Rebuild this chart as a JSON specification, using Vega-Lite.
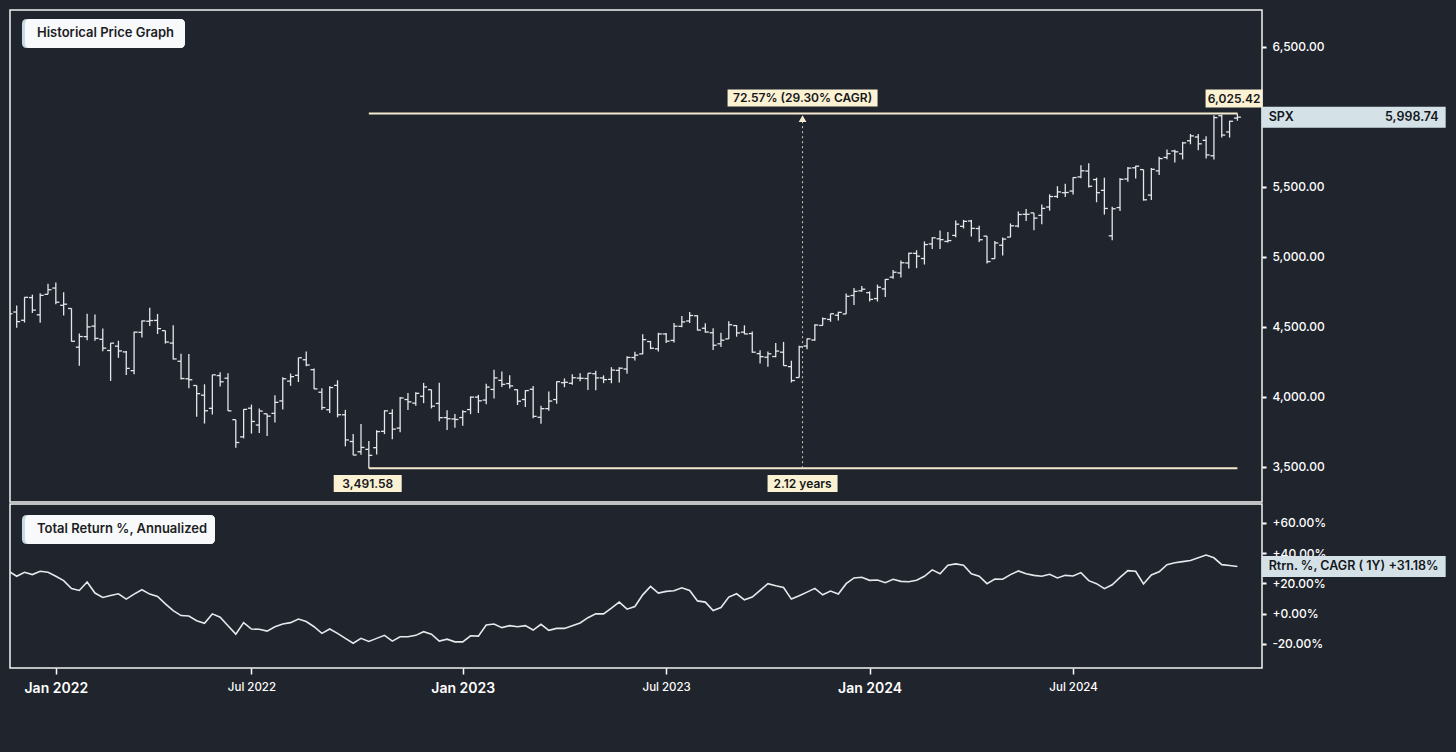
{
  "$schema": "https://vega.github.io/schema/vega-lite/v6.json",
  "autosize": {"type": "none"},
  "padding": {"left": 10, "top": 10, "right": 1446, "bottom": 742},
  "background": "#20242c",
  "config": {
    "font": "Inter",
    "view": {"stroke": "#f2f2f2", "strokeWidth": 1.5},
    "axis": {"grid": false, "domain": false, "labelFont": "Inter", "labelColor": "#ffffff", "tickColor": "#ffffff"}
  },
  "datasets": {
    "spx": [
      {"d":"2021-11-26","o":4700,"h":4743.8,"l":4585.4,"c":4594.6,"r":28},
      {"d":"2021-12-03","o":4607,"h":4652.9,"l":4495.1,"c":4538.4,"r":24.7},
      {"d":"2021-12-10","o":4548,"h":4713.6,"l":4532,"c":4712.0,"r":27.3},
      {"d":"2021-12-17","o":4710,"h":4731,"l":4600.2,"c":4620.6,"r":25.8},
      {"d":"2021-12-24","o":4587,"h":4740.7,"l":4531.1,"c":4725.8,"r":28},
      {"d":"2021-12-31","o":4733,"h":4808.9,"l":4733,"c":4766.2,"r":27.3},
      {"d":"2022-01-07","o":4778,"h":4818.6,"l":4662.7,"c":4677.0,"r":24.7},
      {"d":"2022-01-14","o":4655,"h":4748.8,"l":4582.2,"c":4662.9,"r":21.8},
      {"d":"2022-01-21","o":4632,"h":4632.2,"l":4395.3,"c":4397.9,"r":16.5},
      {"d":"2022-01-28","o":4356,"h":4453.2,"l":4222.6,"c":4431.9,"r":15.3},
      {"d":"2022-02-04","o":4431,"h":4595.3,"l":4405,"c":4500.5,"r":20.9},
      {"d":"2022-02-11","o":4506,"h":4590,"l":4401.4,"c":4418.6,"r":13.6},
      {"d":"2022-02-18","o":4412,"h":4489.5,"l":4327.2,"c":4348.9,"r":10.7},
      {"d":"2022-02-25","o":4332,"h":4385,"l":4114.7,"c":4384.7,"r":12},
      {"d":"2022-03-04","o":4363,"h":4402,"l":4279.5,"c":4328.9,"r":13.1},
      {"d":"2022-03-11","o":4322,"h":4329,"l":4157.9,"c":4204.3,"r":9.6},
      {"d":"2022-03-18","o":4188,"h":4465.4,"l":4161.7,"c":4463.1,"r":12.9},
      {"d":"2022-03-25","o":4462,"h":4546,"l":4424.3,"c":4543.1,"r":15.8},
      {"d":"2022-04-01","o":4541,"h":4637.3,"l":4506.9,"c":4545.9,"r":12.9},
      {"d":"2022-04-08","o":4547,"h":4593.4,"l":4450,"c":4488.3,"r":11.3},
      {"d":"2022-04-15","o":4474,"h":4474,"l":4381.3,"c":4392.6,"r":6.4},
      {"d":"2022-04-22","o":4385,"h":4512.9,"l":4267.6,"c":4271.8,"r":2},
      {"d":"2022-04-29","o":4255,"h":4308.5,"l":4124.3,"c":4131.9,"r":-1.3},
      {"d":"2022-05-06","o":4130,"h":4307.7,"l":4062.5,"c":4123.3,"r":-1.6},
      {"d":"2022-05-13","o":4082,"h":4082,"l":3858.9,"c":4023.9,"r":-4.7},
      {"d":"2022-05-20","o":4013,"h":4090.7,"l":3810.3,"c":3901.4,"r":-6.4},
      {"d":"2022-05-27","o":3919,"h":4158.5,"l":3875.1,"c":4158.2,"r":-0.2},
      {"d":"2022-06-03","o":4153,"h":4177.5,"l":4074.4,"c":4108.5,"r":-2.4},
      {"d":"2022-06-10","o":4134,"h":4168.8,"l":3900.2,"c":3900.9,"r":-8},
      {"d":"2022-06-17","o":3838,"h":3838,"l":3636.9,"c":3674.8,"r":-13.6},
      {"d":"2022-06-24","o":3715,"h":3913.6,"l":3705,"c":3911.7,"r":-6},
      {"d":"2022-07-01","o":3920,"h":3945.9,"l":3738.7,"c":3825.3,"r":-10.2},
      {"d":"2022-07-08","o":3800,"h":3918.5,"l":3742,"c":3899.4,"r":-10.4},
      {"d":"2022-07-15","o":3880,"h":3880,"l":3721.6,"c":3863.2,"r":-11.6},
      {"d":"2022-07-22","o":3883,"h":4012.4,"l":3818.6,"c":3961.6,"r":-8.7},
      {"d":"2022-07-29","o":3972,"h":4140.2,"l":3910.7,"c":4130.3,"r":-6.9},
      {"d":"2022-08-05","o":4113,"h":4167.7,"l":4079.8,"c":4145.2,"r":-6},
      {"d":"2022-08-12","o":4155,"h":4280.5,"l":4107,"c":4280.2,"r":-3.6},
      {"d":"2022-08-19","o":4266,"h":4325.3,"l":4218.7,"c":4228.5,"r":-5.3},
      {"d":"2022-08-26","o":4195,"h":4203,"l":4057.7,"c":4057.7,"r":-8.7},
      {"d":"2022-09-02","o":4034,"h":4062,"l":3906.2,"c":3924.3,"r":-13.1},
      {"d":"2022-09-09","o":3909,"h":4076.8,"l":3886,"c":4067.4,"r":-10.2},
      {"d":"2022-09-16","o":4083,"h":4119.3,"l":3855,"c":3873.3,"r":-13.1},
      {"d":"2022-09-23","o":3873,"h":3908,"l":3647.5,"c":3693.2,"r":-16.4},
      {"d":"2022-09-30","o":3682,"h":3736,"l":3584.1,"c":3585.6,"r":-19.6},
      {"d":"2022-10-07","o":3609,"h":3806.9,"l":3588,"c":3639.7,"r":-16.4},
      {"d":"2022-10-14","o":3626,"h":3685.4,"l":3491.58,"c":3583.1,"r":-18.4},
      {"d":"2022-10-21","o":3638,"h":3762.8,"l":3590,"c":3752.8,"r":-16.4},
      {"d":"2022-10-28","o":3755,"h":3905.4,"l":3735,"c":3901.1,"r":-14.4},
      {"d":"2022-11-04","o":3883,"h":3911.8,"l":3698.8,"c":3770.6,"r":-18.2},
      {"d":"2022-11-11","o":3778,"h":3999.1,"l":3749,"c":3993.0,"r":-15.3},
      {"d":"2022-11-18","o":3982,"h":4028.8,"l":3906.5,"c":3965.3,"r":-15.3},
      {"d":"2022-11-25","o":3956,"h":4034,"l":3938,"c":4026.1,"r":-14.4},
      {"d":"2022-12-02","o":4005,"h":4100.5,"l":3956,"c":4071.7,"r":-12},
      {"d":"2022-12-09","o":4052,"h":4052.5,"l":3918.4,"c":3934.4,"r":-13.6},
      {"d":"2022-12-16","o":3954,"h":4101,"l":3827,"c":3852.4,"r":-18.2},
      {"d":"2022-12-23","o":3853,"h":3905.4,"l":3764.5,"c":3844.8,"r":-16.9},
      {"d":"2022-12-30","o":3843,"h":3878.3,"l":3780.8,"c":3839.5,"r":-18.7},
      {"d":"2023-01-06","o":3853,"h":3906,"l":3794,"c":3895.1,"r":-18.7},
      {"d":"2023-01-13","o":3910,"h":4003.9,"l":3877.3,"c":3999.1,"r":-14.7},
      {"d":"2023-01-20","o":3999,"h":4015.4,"l":3885.5,"c":3972.6,"r":-14.9},
      {"d":"2023-01-27","o":3978,"h":4094.2,"l":3949,"c":4070.6,"r":-7.6},
      {"d":"2023-02-03","o":4054,"h":4195.4,"l":3989.7,"c":4136.5,"r":-6.9},
      {"d":"2023-02-10","o":4119,"h":4182.4,"l":4071,"c":4090.5,"r":-9.3},
      {"d":"2023-02-17","o":4096,"h":4156,"l":4060.8,"c":4079.1,"r":-8},
      {"d":"2023-02-24","o":4052,"h":4053.6,"l":3943.1,"c":3970.0,"r":-8.7},
      {"d":"2023-03-03","o":3982,"h":4048.3,"l":3928.2,"c":4045.6,"r":-8},
      {"d":"2023-03-10","o":4055,"h":4078.5,"l":3847.7,"c":3861.6,"r":-10.9},
      {"d":"2023-03-17","o":3855,"h":3937.9,"l":3808.9,"c":3916.6,"r":-7.1},
      {"d":"2023-03-24","o":3917,"h":4039.5,"l":3901.3,"c":3971.0,"r":-11.1},
      {"d":"2023-03-31","o":3982,"h":4110.8,"l":3951.5,"c":4109.3,"r":-9.8},
      {"d":"2023-04-07","o":4102,"h":4133,"l":4069.8,"c":4105.0,"r":-9.8},
      {"d":"2023-04-14","o":4098,"h":4163.2,"l":4086.9,"c":4137.6,"r":-8},
      {"d":"2023-04-21","o":4135,"h":4169.5,"l":4113.2,"c":4133.5,"r":-6.2},
      {"d":"2023-04-28","o":4132,"h":4170,"l":4049.4,"c":4169.5,"r":-2.7},
      {"d":"2023-05-05","o":4166,"h":4186.9,"l":4048.3,"c":4136.3,"r":-0.2},
      {"d":"2023-05-12","o":4136,"h":4154.3,"l":4098.9,"c":4124.1,"r":-0.2},
      {"d":"2023-05-19","o":4126,"h":4212.9,"l":4098,"c":4192.0,"r":3.6},
      {"d":"2023-05-26","o":4190,"h":4212.9,"l":4104,"c":4205.5,"r":7.6},
      {"d":"2023-06-02","o":4200,"h":4290.7,"l":4166,"c":4282.4,"r":2.9},
      {"d":"2023-06-09","o":4282,"h":4322.6,"l":4260.2,"c":4298.9,"r":4.7},
      {"d":"2023-06-16","o":4308,"h":4448.5,"l":4305,"c":4409.6,"r":12.4},
      {"d":"2023-06-23","o":4396,"h":4400,"l":4341,"c":4348.3,"r":18},
      {"d":"2023-06-30","o":4344,"h":4458.5,"l":4325,"c":4450.4,"r":13.6},
      {"d":"2023-07-07","o":4450,"h":4456.5,"l":4385,"c":4399.0,"r":14.7},
      {"d":"2023-07-14","o":4404,"h":4527.8,"l":4389.9,"c":4505.4,"r":15.1},
      {"d":"2023-07-21","o":4505,"h":4578.4,"l":4497.8,"c":4536.3,"r":17.1},
      {"d":"2023-07-28","o":4543,"h":4607.1,"l":4528.6,"c":4582.2,"r":15.3},
      {"d":"2023-08-04","o":4580,"h":4584.6,"l":4474.5,"c":4478.0,"r":8.4},
      {"d":"2023-08-11","o":4491,"h":4527.4,"l":4458.3,"c":4464.1,"r":7.6},
      {"d":"2023-08-18","o":4459,"h":4490.3,"l":4335.3,"c":4369.7,"r":2},
      {"d":"2023-08-25","o":4380,"h":4458.3,"l":4356.3,"c":4405.7,"r":4},
      {"d":"2023-09-01","o":4415,"h":4541.3,"l":4414.6,"c":4515.8,"r":10.9},
      {"d":"2023-09-08","o":4510,"h":4514.3,"l":4430.5,"c":4457.5,"r":13.1},
      {"d":"2023-09-15","o":4463,"h":4512,"l":4448.6,"c":4450.3,"r":9.1},
      {"d":"2023-09-22","o":4453,"h":4467.4,"l":4316.2,"c":4320.1,"r":10.9},
      {"d":"2023-09-29","o":4310,"h":4333.2,"l":4238.6,"c":4288.1,"r":15.3},
      {"d":"2023-10-06","o":4284,"h":4324.4,"l":4216.5,"c":4308.5,"r":19.8},
      {"d":"2023-10-13","o":4289,"h":4385.5,"l":4283.8,"c":4327.8,"r":18.4},
      {"d":"2023-10-20","o":4320,"h":4393.6,"l":4223,"c":4224.2,"r":17.3},
      {"d":"2023-10-27","o":4217,"h":4259.4,"l":4103.8,"c":4117.4,"r":9.6},
      {"d":"2023-11-03","o":4139,"h":4366.2,"l":4138.9,"c":4358.3,"r":11.8},
      {"d":"2023-11-10","o":4364,"h":4418,"l":4341.3,"c":4415.2,"r":14.2},
      {"d":"2023-11-17","o":4407,"h":4520.1,"l":4401.2,"c":4514.0,"r":16.7},
      {"d":"2023-11-24","o":4511,"h":4568.4,"l":4511,"c":4559.3,"r":12.4},
      {"d":"2023-12-01","o":4554,"h":4595,"l":4537.2,"c":4594.6,"r":14.9},
      {"d":"2023-12-08","o":4584,"h":4609.2,"l":4546.5,"c":4604.4,"r":12.9},
      {"d":"2023-12-15","o":4593,"h":4738.6,"l":4593,"c":4719.2,"r":19.8},
      {"d":"2023-12-22","o":4725,"h":4778,"l":4657,"c":4754.6,"r":23.6},
      {"d":"2023-12-29","o":4758,"h":4793.3,"l":4751,"c":4769.8,"r":24},
      {"d":"2024-01-05","o":4745,"h":4754.3,"l":4682.1,"c":4697.2,"r":22},
      {"d":"2024-01-12","o":4703,"h":4802.4,"l":4682,"c":4783.8,"r":22.2},
      {"d":"2024-01-19","o":4772,"h":4842.1,"l":4714.8,"c":4839.8,"r":20.4},
      {"d":"2024-01-26","o":4856,"h":4906.7,"l":4844,"c":4891.0,"r":22.7},
      {"d":"2024-02-02","o":4886,"h":4975.3,"l":4853,"c":4958.6,"r":21.3},
      {"d":"2024-02-09","o":4957,"h":5030,"l":4918,"c":5026.6,"r":21.1},
      {"d":"2024-02-16","o":5026,"h":5048.4,"l":4920.3,"c":5005.6,"r":22},
      {"d":"2024-02-23","o":4989,"h":5111,"l":4946,"c":5088.8,"r":24.7},
      {"d":"2024-03-01","o":5093,"h":5140.3,"l":5056.8,"c":5137.1,"r":28.9},
      {"d":"2024-03-08","o":5130,"h":5189.3,"l":5056.3,"c":5123.7,"r":26.4},
      {"d":"2024-03-15","o":5111,"h":5179.1,"l":5104,"c":5117.1,"r":32},
      {"d":"2024-03-22","o":5154,"h":5261.1,"l":5140.3,"c":5234.2,"r":32.9},
      {"d":"2024-03-29","o":5219,"h":5264.9,"l":5203.4,"c":5254.4,"r":32},
      {"d":"2024-04-05","o":5257,"h":5264.9,"l":5146,"c":5204.3,"r":26.4},
      {"d":"2024-04-12","o":5203,"h":5222.2,"l":5107,"c":5123.4,"r":24.7},
      {"d":"2024-04-19","o":5149,"h":5149.7,"l":4953.6,"c":4967.2,"r":19.8},
      {"d":"2024-04-26","o":4988,"h":5114.6,"l":4987,"c":5100.0,"r":22.9},
      {"d":"2024-05-03","o":5084,"h":5139.1,"l":5011,"c":5127.8,"r":22.7},
      {"d":"2024-05-10","o":5142,"h":5239.7,"l":5142,"c":5222.7,"r":25.8},
      {"d":"2024-05-17","o":5221,"h":5325.5,"l":5211,"c":5303.3,"r":28.2},
      {"d":"2024-05-24","o":5305,"h":5341.9,"l":5256.9,"c":5304.7,"r":26.4},
      {"d":"2024-05-31","o":5315,"h":5315,"l":5191.7,"c":5277.5,"r":25.3},
      {"d":"2024-06-07","o":5297,"h":5375,"l":5234,"c":5347.0,"r":24.7},
      {"d":"2024-06-14","o":5357,"h":5447.3,"l":5331,"c":5431.6,"r":26},
      {"d":"2024-06-21","o":5432,"h":5505.5,"l":5421,"c":5464.6,"r":23.6},
      {"d":"2024-06-28","o":5459,"h":5523.6,"l":5428.7,"c":5460.5,"r":25.3},
      {"d":"2024-07-05","o":5471,"h":5570.3,"l":5446,"c":5567.2,"r":24.9},
      {"d":"2024-07-12","o":5572,"h":5655.6,"l":5563,"c":5615.4,"r":27.1},
      {"d":"2024-07-19","o":5614,"h":5669.7,"l":5497,"c":5505.0,"r":21.8},
      {"d":"2024-07-26","o":5553,"h":5566.2,"l":5390.9,"c":5459.1,"r":19.8},
      {"d":"2024-08-02","o":5476,"h":5566.2,"l":5302.9,"c":5346.6,"r":16.5},
      {"d":"2024-08-09","o":5151,"h":5358,"l":5119.3,"c":5344.2,"r":19.1},
      {"d":"2024-08-16","o":5353,"h":5563.4,"l":5328,"c":5554.3,"r":24},
      {"d":"2024-08-23","o":5557,"h":5643.2,"l":5537,"c":5634.6,"r":28.4},
      {"d":"2024-08-30","o":5637,"h":5651.6,"l":5560.9,"c":5648.4,"r":28},
      {"d":"2024-09-06","o":5624,"h":5624,"l":5402.6,"c":5408.4,"r":19.6},
      {"d":"2024-09-13","o":5442,"h":5636.3,"l":5407,"c":5626.0,"r":25.6},
      {"d":"2024-09-20","o":5615,"h":5715,"l":5585,"c":5702.6,"r":27.6},
      {"d":"2024-09-27","o":5711,"h":5767.4,"l":5698,"c":5738.2,"r":32.4},
      {"d":"2024-10-04","o":5757,"h":5765.1,"l":5674,"c":5751.1,"r":33.6},
      {"d":"2024-10-11","o":5737,"h":5822.1,"l":5696.8,"c":5815.0,"r":34.4},
      {"d":"2024-10-18","o":5830,"h":5878.5,"l":5805,"c":5864.7,"r":35.1},
      {"d":"2024-10-25","o":5857,"h":5878.3,"l":5762,"c":5808.1,"r":36.9},
      {"d":"2024-11-01","o":5833,"h":5862.8,"l":5703,"c":5728.8,"r":38.7},
      {"d":"2024-11-08","o":5723,"h":6012.5,"l":5696.5,"c":5995.5,"r":36.9},
      {"d":"2024-11-15","o":6008.9,"h":6017.3,"l":5853,"c":5870.6,"r":32.4},
      {"d":"2024-11-22","o":5893,"h":5972.9,"l":5853,"c":5969.3,"r":31.8},
      {"d":"2024-11-29","o":5992,"h":6025.42,"l":5972.9,"c":5998.74,"r":31.18}
    ]
  },
  "spacing": 0,
  "vconcat": [
    {
      "width": 1252,
      "height": 492,
      "layer": [
        {
          "data": {"name": "spx"},
          "mark": {"type": "rule", "clip": true, "color": "#e4e6ea", "strokeWidth": 1.3},
          "encoding": {
            "x": {"field": "d", "type": "temporal", "scale": {"type": "utc", "domain": [{"year":2021,"month":11,"date":27,"utc":true},{"year":2024,"month":12,"date":21,"utc":true}]}, "axis": null},
            "y": {"field": "l", "type": "quantitative", "scale": {"domain": [3250, 6764]},
              "axis": {"orient": "right", "values": [3500,4000,4500,5000,5500,6500], "format": ",.2f", "labelColor": "#ffffff", "labelFontSize": 12, "labelFontWeight": 500, "tickSize": 4, "tickWidth": 2, "tickColor": "#ffffff", "labelPadding": 6, "title": null, "grid": false, "domain": false}},
            "y2": {"field": "h"}
          }
        },
        {
          "data": {"name": "spx"},
          "mark": {"type": "rule", "clip": true, "color": "#e4e6ea", "strokeWidth": 1.3, "xOffset": -3.5},
          "encoding": {
            "x": {"field": "d", "type": "temporal", "scale": {"type": "utc", "domain": [{"year":2021,"month":11,"date":27,"utc":true},{"year":2024,"month":12,"date":21,"utc":true}]}, "axis": null},
            "x2": {"field": "d"},
            "y": {"field": "o", "type": "quantitative", "scale": {"domain": [3250, 6764]}}
          }
        },
        {
          "data": {"name": "spx"},
          "mark": {"type": "rule", "clip": true, "color": "#e4e6ea", "strokeWidth": 1.3, "x2Offset": 3.5},
          "encoding": {
            "x": {"field": "d", "type": "temporal", "scale": {"type": "utc", "domain": [{"year":2021,"month":11,"date":27,"utc":true},{"year":2024,"month":12,"date":21,"utc":true}]}, "axis": null},
            "x2": {"field": "d"},
            "y": {"field": "c", "type": "quantitative", "scale": {"domain": [3250, 6764]}}
          }
        },
        {
          "data": {"values": [{"d": "2022-10-14", "d2": "2024-11-29", "v": 6025.42}, {"d": "2022-10-14", "d2": "2024-11-29", "v": 3491.58}]},
          "mark": {"type": "rule", "color": "#f4ead0", "strokeWidth": 2},
          "encoding": {
            "x": {"field": "d", "type": "temporal", "scale": {"type": "utc", "domain": [{"year":2021,"month":11,"date":27,"utc":true},{"year":2024,"month":12,"date":21,"utc":true}]}, "axis": null},
            "x2": {"field": "d2"},
            "y": {"field": "v", "type": "quantitative", "scale": {"domain": [3250, 6764]}}
          }
        },
        {
          "data": {"values": [{"d": "2023-11-06", "v": 3491.58, "v2": 5984}]},
          "mark": {"type": "rule", "color": "#d6d0bc", "strokeWidth": 1, "strokeDash": [2, 3]},
          "encoding": {
            "x": {"field": "d", "type": "temporal", "scale": {"type": "utc", "domain": [{"year":2021,"month":11,"date":27,"utc":true},{"year":2024,"month":12,"date":21,"utc":true}]}, "axis": null},
            "y": {"field": "v", "type": "quantitative", "scale": {"domain": [3250, 6764]}},
            "y2": {"field": "v2"}
          }
        },
        {
          "data": {"values": [{"d": "2023-11-06", "v": 5988}]},
          "mark": {"type": "point", "shape": "triangle-up", "size": 60, "filled": true, "color": "#f4ead0", "opacity": 1},
          "encoding": {
            "x": {"field": "d", "type": "temporal", "scale": {"type": "utc", "domain": [{"year":2021,"month":11,"date":27,"utc":true},{"year":2024,"month":12,"date":21,"utc":true}]}, "axis": null},
            "y": {"field": "v", "type": "quantitative", "scale": {"domain": [3250, 6764]}}
          }
        },
        {
          "data": {"values": [{"d": "2023-11-06", "v": 6135.5}]},
          "mark": {"type": "point", "shape": "M-1,-0.1133H1V0.1133H-1Z", "size": 22500, "filled": true, "color": "#fbf1d3", "opacity": 1, "strokeWidth": 0},
          "encoding": {
            "x": {"field": "d", "type": "temporal", "scale": {"type": "utc", "domain": [{"year":2021,"month":11,"date":27,"utc":true},{"year":2024,"month":12,"date":21,"utc":true}]}, "axis": null},
            "y": {"field": "v", "type": "quantitative", "scale": {"domain": [3250, 6764]}}
          }
        },
        {
          "data": {"values": [{"d": "2024-11-26", "v": 6131.9}]},
          "mark": {"type": "point", "shape": "M-1,-0.3158H1V0.3158H-1Z", "size": 3249, "filled": true, "color": "#fbf1d3", "opacity": 1, "strokeWidth": 0},
          "encoding": {
            "x": {"field": "d", "type": "temporal", "scale": {"type": "utc", "domain": [{"year":2021,"month":11,"date":27,"utc":true},{"year":2024,"month":12,"date":21,"utc":true}]}, "axis": null},
            "y": {"field": "v", "type": "quantitative", "scale": {"domain": [3250, 6764]}}
          }
        },
        {
          "data": {"values": [{"d": "2022-10-13", "v": 3382.1}]},
          "mark": {"type": "point", "shape": "M-1,-0.25H1V0.25H-1Z", "size": 4624, "filled": true, "color": "#fbf1d3", "opacity": 1, "strokeWidth": 0},
          "encoding": {
            "x": {"field": "d", "type": "temporal", "scale": {"type": "utc", "domain": [{"year":2021,"month":11,"date":27,"utc":true},{"year":2024,"month":12,"date":21,"utc":true}]}, "axis": null},
            "y": {"field": "v", "type": "quantitative", "scale": {"domain": [3250, 6764]}}
          }
        },
        {
          "data": {"values": [{"d": "2023-11-06", "v": 3382.1}]},
          "mark": {"type": "point", "shape": "M-1,-0.2429H1V0.2429H-1Z", "size": 4900, "filled": true, "color": "#fbf1d3", "opacity": 1, "strokeWidth": 0},
          "encoding": {
            "x": {"field": "d", "type": "temporal", "scale": {"type": "utc", "domain": [{"year":2021,"month":11,"date":27,"utc":true},{"year":2024,"month":12,"date":21,"utc":true}]}, "axis": null},
            "y": {"field": "v", "type": "quantitative", "scale": {"domain": [3250, 6764]}}
          }
        },
        {
          "data": {"values": [
            {"d": "2023-11-06", "v": 6135.5, "t": "72.57% (29.30% CAGR)"},
            {"d": "2024-11-26", "v": 6131.9, "t": "6,025.42"},
            {"d": "2022-10-13", "v": 3382.1, "t": "3,491.58"},
            {"d": "2023-11-06", "v": 3382.1, "t": "2.12 years"}
          ]},
          "mark": {"type": "text", "align": "center", "baseline": "middle", "fontSize": 12, "fontWeight": 600, "color": "#15171b"},
          "encoding": {
            "x": {"field": "d", "type": "temporal", "scale": {"type": "utc", "domain": [{"year":2021,"month":11,"date":27,"utc":true},{"year":2024,"month":12,"date":21,"utc":true}]}, "axis": null},
            "y": {"field": "v", "type": "quantitative", "scale": {"domain": [3250, 6764]}},
            "text": {"field": "t"}
          }
        },
        {
          "data": {"values": [{"d": "2025-03-13", "v": 5998.74}]},
          "mark": {"type": "point", "shape": "M-1,-0.1141H1V0.1141H-1Z", "size": 33856, "filled": true, "color": "#d4e2e8", "opacity": 1, "strokeWidth": 0},
          "encoding": {
            "x": {"field": "d", "type": "temporal", "scale": {"type": "utc", "domain": [{"year":2021,"month":11,"date":27,"utc":true},{"year":2024,"month":12,"date":21,"utc":true}]}, "axis": null},
            "y": {"field": "v", "type": "quantitative", "scale": {"domain": [3250, 6764]}}
          }
        },
        {
          "data": {"values": [{"d": "2025-03-13", "v": 5998.74, "t": "SPX"}]},
          "mark": {"type": "text", "align": "left", "baseline": "middle", "dx": -85, "fontSize": 12.5, "fontWeight": 600, "color": "#15171b"},
          "encoding": {
            "x": {"field": "d", "type": "temporal", "scale": {"type": "utc", "domain": [{"year":2021,"month":11,"date":27,"utc":true},{"year":2024,"month":12,"date":21,"utc":true}]}, "axis": null},
            "y": {"field": "v", "type": "quantitative", "scale": {"domain": [3250, 6764]}},
            "text": {"field": "t"}
          }
        },
        {
          "data": {"values": [{"d": "2025-03-13", "v": 5998.74, "t": "5,998.74"}]},
          "mark": {"type": "text", "align": "right", "baseline": "middle", "dx": 85, "fontSize": 12.5, "fontWeight": 600, "color": "#15171b"},
          "encoding": {
            "x": {"field": "d", "type": "temporal", "scale": {"type": "utc", "domain": [{"year":2021,"month":11,"date":27,"utc":true},{"year":2024,"month":12,"date":21,"utc":true}]}, "axis": null},
            "y": {"field": "v", "type": "quantitative", "scale": {"domain": [3250, 6764]}},
            "text": {"field": "t"}
          }
        },
        {
          "data": {"values": [{"d": "2022-02-18T15:00:00Z", "v": 6596.2}]},
          "mark": {"type": "point", "shape": "M-0.9387,-0.1779H0.9387Q1,-0.1779 1,-0.1166V0.1166Q1,0.1779 0.9387,0.1779H-0.9387Q-1,0.1779 -1,0.1166V-0.1166Q-1,-0.1779 -0.9387,-0.1779Z", "size": 26569, "filled": true, "color": "#c5dbe1", "opacity": 1, "strokeWidth": 0},
          "encoding": {
            "x": {"field": "d", "type": "temporal", "scale": {"type": "utc", "domain": [{"year":2021,"month":11,"date":27,"utc":true},{"year":2024,"month":12,"date":21,"utc":true}]}, "axis": null},
            "y": {"field": "v", "type": "quantitative", "scale": {"domain": [3250, 6764]}}
          }
        },
        {
          "data": {"values": [{"d": "2022-02-18T15:00:00Z", "v": 6596.2}]},
          "mark": {"type": "point", "shape": "M-0.9375,-0.18125H0.9375Q1,-0.18125 1,-0.11875V0.11875Q1,0.18125 0.9375,0.18125H-0.9375Q-1,0.18125 -1,0.11875V-0.11875Q-1,-0.18125 -0.9375,-0.18125Z", "size": 25600, "xOffset": 1.5, "filled": true, "color": "#f8f9fa", "opacity": 1, "strokeWidth": 0},
          "encoding": {
            "x": {"field": "d", "type": "temporal", "scale": {"type": "utc", "domain": [{"year":2021,"month":11,"date":27,"utc":true},{"year":2024,"month":12,"date":21,"utc":true}]}, "axis": null},
            "y": {"field": "v", "type": "quantitative", "scale": {"domain": [3250, 6764]}}
          }
        },
        {
          "data": {"values": [{"d": "2022-02-18T15:00:00Z", "v": 6596.2, "t": "Historical Price Graph"}]},
          "mark": {"type": "text", "align": "left", "baseline": "middle", "dx": -66.5, "fontSize": 13, "fontWeight": 600, "color": "#1b1e24"},
          "encoding": {
            "x": {"field": "d", "type": "temporal", "scale": {"type": "utc", "domain": [{"year":2021,"month":11,"date":27,"utc":true},{"year":2024,"month":12,"date":21,"utc":true}]}, "axis": null},
            "y": {"field": "v", "type": "quantitative", "scale": {"domain": [3250, 6764]}},
            "text": {"field": "t"}
          }
        }
      ]
    },
    {
      "width": 1252,
      "height": 164,
      "layer": [
        {
          "data": {"name": "spx"},
          "mark": {"type": "line", "clip": true, "color": "#e6e8ec", "strokeWidth": 1.6},
          "encoding": {
            "x": {"field": "d", "type": "temporal", "scale": {"type": "utc", "domain": [{"year":2021,"month":11,"date":27,"utc":true},{"year":2024,"month":12,"date":21,"utc":true}]},
              "axis": {
                "values": [{"year":2022,"month":1,"date":7,"utc":true},{"year":2022,"month":7,"date":1,"utc":true},{"year":2023,"month":1,"date":6,"utc":true},{"year":2023,"month":7,"date":7,"utc":true},{"year":2024,"month":1,"date":5,"utc":true},{"year":2024,"month":7,"date":5,"utc":true}],
                "labelExpr": "utcFormat(datum.value, '%b %Y')",
                "labelColor": "#ffffff",
                "labelFontSize": {"condition": {"test": "utcmonth(datum.value) == 0", "value": 14}, "value": 11.5},
                "labelFontWeight": {"condition": {"test": "utcmonth(datum.value) == 0", "value": 600}, "value": 500},
                "labelFlush": false,
                "labelOverlap": false,
                "tickSize": 6, "tickWidth": 1.5, "tickColor": "#ffffff",
                "labelPadding": 7, "title": null, "grid": false, "domain": false
              }},
            "y": {"field": "r", "type": "quantitative", "scale": {"domain": [-36, 72.5]},
              "axis": {"orient": "right", "values": [-20, 0, 20, 40, 60], "labelExpr": "(datum.value < 0 ? '-' : '+') + format(abs(datum.value), '.2f') + '%'", "labelColor": "#ffffff", "labelFontSize": 12, "labelFontWeight": 500, "tickSize": 4, "tickWidth": 2, "tickColor": "#ffffff", "labelPadding": 6, "title": null, "grid": false, "domain": false}}
          }
        },
        {
          "mark": {"type": "rule", "color": "#60666f", "strokeWidth": 1, "strokeDash": [1.5, 3.5]},
          "encoding": {
            "y": {"datum": 0, "type": "quantitative", "scale": {"domain": [-36, 72.5]}}
          }
        },
        {
          "data": {"values": [{"d": "2022-03-04T01:00:00Z", "v": 55.63}]},
          "mark": {"type": "point", "shape": "M-0.9482,-0.1503H0.9482Q1,-0.1503 1,-0.0985V0.0985Q1,0.1503 0.9482,0.1503H-0.9482Q-1,0.1503 -1,0.0985V-0.0985Q-1,-0.1503 -0.9482,-0.1503Z", "size": 37249, "filled": true, "color": "#c5dbe1", "opacity": 1, "strokeWidth": 0},
          "encoding": {
            "x": {"field": "d", "type": "temporal", "scale": {"type": "utc", "domain": [{"year":2021,"month":11,"date":27,"utc":true},{"year":2024,"month":12,"date":21,"utc":true}]}},
            "y": {"field": "v", "type": "quantitative", "scale": {"domain": [-36, 72.5]}}
          }
        },
        {
          "data": {"values": [{"d": "2022-03-04T01:00:00Z", "v": 55.63}]},
          "mark": {"type": "point", "shape": "M-0.9474,-0.1526H0.9474Q1,-0.1526 1,-0.1V0.1Q1,0.1526 0.9474,0.1526H-0.9474Q-1,0.1526 -1,0.1V-0.1Q-1,-0.1526 -0.9474,-0.1526Z", "size": 36100, "xOffset": 1.5, "filled": true, "color": "#f8f9fa", "opacity": 1, "strokeWidth": 0},
          "encoding": {
            "x": {"field": "d", "type": "temporal", "scale": {"type": "utc", "domain": [{"year":2021,"month":11,"date":27,"utc":true},{"year":2024,"month":12,"date":21,"utc":true}]}},
            "y": {"field": "v", "type": "quantitative", "scale": {"domain": [-36, 72.5]}}
          }
        },
        {
          "data": {"values": [{"d": "2022-03-04T01:00:00Z", "v": 55.63, "t": "Total Return %, Annualized"}]},
          "mark": {"type": "text", "align": "left", "baseline": "middle", "dx": -81.5, "fontSize": 13, "fontWeight": 600, "color": "#1b1e24"},
          "encoding": {
            "x": {"field": "d", "type": "temporal", "scale": {"type": "utc", "domain": [{"year":2021,"month":11,"date":27,"utc":true},{"year":2024,"month":12,"date":21,"utc":true}]}},
            "y": {"field": "v", "type": "quantitative", "scale": {"domain": [-36, 72.5]}},
            "text": {"field": "t"}
          }
        },
        {
          "data": {"values": [{"d": "2025-03-13", "v": 31.18}]},
          "mark": {"type": "point", "shape": "M-1,-0.1141H1V0.1141H-1Z", "size": 33856, "filled": true, "color": "#d4e2e8", "opacity": 1, "strokeWidth": 0},
          "encoding": {
            "x": {"field": "d", "type": "temporal", "scale": {"type": "utc", "domain": [{"year":2021,"month":11,"date":27,"utc":true},{"year":2024,"month":12,"date":21,"utc":true}]}},
            "y": {"field": "v", "type": "quantitative", "scale": {"domain": [-36, 72.5]}}
          }
        },
        {
          "data": {"values": [{"d": "2025-03-13", "v": 31.18, "t": "Rtrn. %, CAGR ( 1Y)"}]},
          "mark": {"type": "text", "align": "left", "baseline": "middle", "dx": -85, "fontSize": 12.5, "fontWeight": 600, "color": "#15171b"},
          "encoding": {
            "x": {"field": "d", "type": "temporal", "scale": {"type": "utc", "domain": [{"year":2021,"month":11,"date":27,"utc":true},{"year":2024,"month":12,"date":21,"utc":true}]}},
            "y": {"field": "v", "type": "quantitative", "scale": {"domain": [-36, 72.5]}},
            "text": {"field": "t"}
          }
        },
        {
          "data": {"values": [{"d": "2025-03-13", "v": 31.18, "t": "+31.18%"}]},
          "mark": {"type": "text", "align": "right", "baseline": "middle", "dx": 85, "fontSize": 12.5, "fontWeight": 600, "color": "#15171b"},
          "encoding": {
            "x": {"field": "d", "type": "temporal", "scale": {"type": "utc", "domain": [{"year":2021,"month":11,"date":27,"utc":true},{"year":2024,"month":12,"date":21,"utc":true}]}},
            "y": {"field": "v", "type": "quantitative", "scale": {"domain": [-36, 72.5]}},
            "text": {"field": "t"}
          }
        }
      ]
    }
  ]
}
